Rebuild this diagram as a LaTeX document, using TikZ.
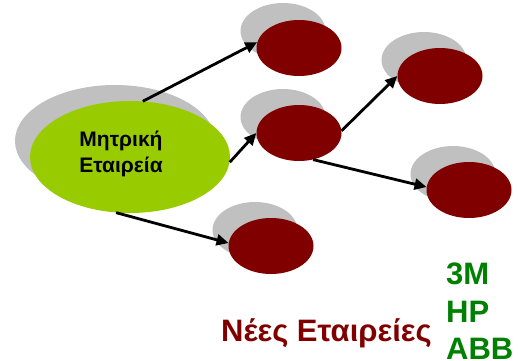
\documentclass[tikz,border=0pt]{standalone}
\usepackage{fontspec}
\setmainfont{Liberation Sans}
\usetikzlibrary{shapes.geometric,arrows.meta}
\definecolor{shade}{HTML}{C0C0C0}
\definecolor{darkred}{HTML}{800000}
\definecolor{lime}{HTML}{99CC00}
\definecolor{textgreen}{HTML}{008000}
\begin{document}
\begin{tikzpicture}[x=1pt,y=1pt,
  small/.style={ellipse,inner sep=0pt,minimum width=85pt,minimum height=56pt,fill=darkred},
  smallshade/.style={ellipse,inner sep=0pt,minimum width=85pt,minimum height=56pt,fill=shade},
  big/.style={ellipse,inner sep=0pt,minimum width=200pt,minimum height=112pt,fill=lime},
  bigshade/.style={ellipse,inner sep=0pt,minimum width=200pt,minimum height=112pt,fill=shade},
  conn/.style={line width=2.8pt,-{Triangle[length=12pt,width=11pt]}}]
\useasboundingbox (0,0) rectangle (519,-361);
% shadows
\node[bigshade] (gs) at (115,-141) {};
\node[smallshade] (t1s) at (283,-31) {};
\node[smallshade] (ms) at (283,-117) {};
\node[smallshade] (bs) at (255,-230) {};
\node[smallshade] (trs) at (424,-60) {};
\node[smallshade] (brs) at (453,-174) {};
% main shapes
\node[big] (g) at (130,-157) {};
\node[small] (t1) at (299,-48) {};
\node[small] (m) at (299,-133) {};
\node[small] (b) at (271,-246) {};
\node[small] (tr) at (440,-76) {};
\node[small] (br) at (469,-190) {};
% text
\node[align=center,font=\bfseries\fontsize{21}{26.6}\selectfont,inner sep=0pt] (gt) at (121,-154) {Μητρική\\Εταιρεία};
\node[anchor=base west,inner sep=0pt,text=darkred,font=\bfseries\fontsize{31}{36}\selectfont] (nt) at (221,-341) {Νέες Εταιρείες};
\node[anchor=north west,align=left,inner sep=0pt,text=textgreen,font=\bfseries\fontsize{31}{37.3}\selectfont] (ct) at (446,-263) {3M\\HP\\ABB};
% connectors
\draw[conn] (g.77) -- (t1.172);
\draw[conn] (g.-3) -- (m.west);
\draw[conn] (g.-104) -- (b.176);
\draw[conn] (m.3) -- (tr.west);
\draw[conn] (m.-62) -- (br.176);
\end{tikzpicture}
\end{document}
